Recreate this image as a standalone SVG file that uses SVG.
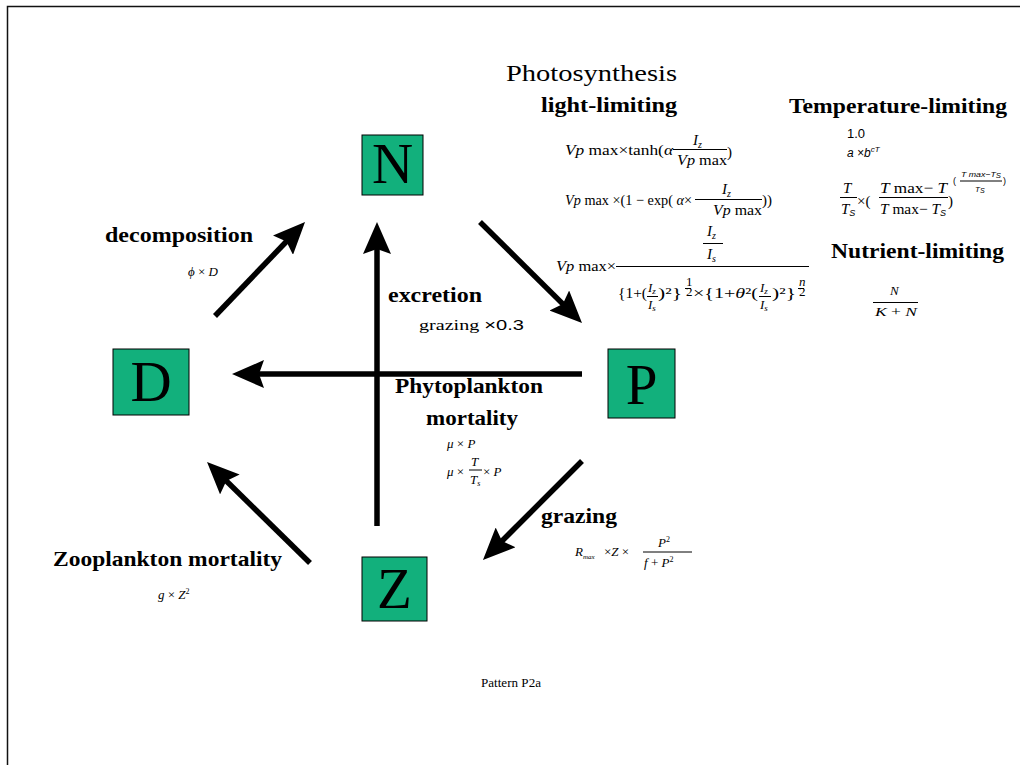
<svg xmlns="http://www.w3.org/2000/svg" width="1020" height="765" viewBox="0 0 1020 765">
<style>
.node{fill:#12B07C;stroke:#000;stroke-width:1}
.nl{font-family:"Liberation Serif",serif;font-size:57px;text-anchor:middle;fill:#000}
.lab{font-family:"Liberation Serif",serif;font-size:22px;font-weight:bold;fill:#000}
.f{font-family:"Liberation Serif",serif;font-size:15px;fill:#000}
.fs{font-family:"Liberation Serif",serif;font-size:13px;fill:#000}
.sans{font-family:"Liberation Sans",sans-serif;fill:#000}
.i{font-style:italic}
.fl{stroke:#000;stroke-width:1}
.arr{stroke:#000;stroke-width:5.5;fill:none;marker-end:url(#ah)}
</style>
<defs>
<marker id="ah" markerUnits="userSpaceOnUse" markerWidth="32" markerHeight="28" viewBox="0 0 32 28" refX="12" refY="14" orient="auto">
<path d="M0,0 L32,14 L0,28 L5,14 Z" fill="#000"/>
</marker>
</defs>
<rect width="1020" height="765" fill="#fff"/>
<path d="M7.5,765 V6.5 H1020" fill="none" stroke="#111" stroke-width="1.5"/>

<g id="connectors">
<line class="arr" x1="215" y1="316" x2="291.2" y2="236.5"/>
<line class="arr" x1="480" y1="222" x2="567.8" y2="308.9"/>
<line class="arr" x1="582" y1="374" x2="252" y2="374"/>
<line class="arr" x1="377" y1="526" x2="377" y2="242"/>
<line class="arr" x1="582" y1="461" x2="497.1" y2="545.9"/>
<line class="arr" x1="310" y1="563" x2="221.3" y2="476"/>
</g>

<g id="node-N"><rect class="node" x="362" y="135" width="61" height="60"/><text class="nl" x="392.5" y="183">N</text></g>
<g id="node-D"><rect class="node" x="113" y="349" width="76" height="66"/><text class="nl" x="151" y="401">D</text></g>
<g id="node-P"><rect class="node" x="608" y="349" width="67" height="69"/><text class="nl" x="641.5" y="404">P</text></g>
<g id="node-Z"><rect class="node" x="362" y="557" width="65" height="64"/><text class="nl" x="394.5" y="608">Z</text></g>

<g id="labels">
<text x="506" y="81" font-family="Liberation Serif, serif" font-size="24" textLength="171" lengthAdjust="spacingAndGlyphs">Photosynthesis</text>
<text class="lab" x="541" y="112" textLength="136" lengthAdjust="spacingAndGlyphs">light-limiting</text>
<text class="lab" x="789" y="113" textLength="218" lengthAdjust="spacingAndGlyphs">Temperature-limiting</text>
<text class="lab" x="831" y="258" textLength="173" lengthAdjust="spacingAndGlyphs">Nutrient-limiting</text>
<text class="lab" x="105" y="242" textLength="148" lengthAdjust="spacingAndGlyphs">decomposition</text>
<text class="lab" x="388" y="302" textLength="94" lengthAdjust="spacingAndGlyphs">excretion</text>
<text class="lab" x="395" y="393" textLength="148" lengthAdjust="spacingAndGlyphs">Phytoplankton</text>
<text class="lab" x="426" y="425" textLength="92" lengthAdjust="spacingAndGlyphs">mortality</text>
<text class="lab" x="541" y="523" textLength="76" lengthAdjust="spacingAndGlyphs">grazing</text>
<text class="lab" x="53" y="566" textLength="229" lengthAdjust="spacingAndGlyphs">Zooplankton mortality</text>
<text x="481" y="687" font-family="Liberation Serif, serif" font-size="13" textLength="60" lengthAdjust="spacingAndGlyphs">Pattern P2a</text>
</g>

<g id="formulas">
<!-- light-limiting 1 -->
<text class="f" x="565" y="155" textLength="108" lengthAdjust="spacingAndGlyphs"><tspan class="i">Vp</tspan> max×tanh(<tspan class="i">α</tspan></text>
<text class="f" x="693" y="145"><tspan class="i">I</tspan><tspan class="i" font-size="10" dy="3">z</tspan></text>
<line class="fl" x1="673" y1="149.5" x2="727" y2="149.5"/>
<text class="f" x="677" y="165" textLength="50" lengthAdjust="spacingAndGlyphs"><tspan class="i">Vp</tspan> max</text>
<text class="f" x="727" y="157">)</text>
<!-- light-limiting 2 -->
<text class="f" x="565" y="205" textLength="127" lengthAdjust="spacingAndGlyphs"><tspan class="i">Vp</tspan> max ×(1 − exp( <tspan class="i">α</tspan>×</text>
<text class="f" x="722" y="194"><tspan class="i">I</tspan><tspan class="i" font-size="10" dy="3">z</tspan></text>
<line class="fl" x1="695" y1="199.5" x2="762" y2="199.5"/>
<text class="f" x="713" y="215" textLength="49" lengthAdjust="spacingAndGlyphs"><tspan class="i">Vp</tspan> max</text>
<text class="f" x="762" y="205">))</text>
<!-- light-limiting 3 -->
<text class="f" x="556" y="271" textLength="60" lengthAdjust="spacingAndGlyphs"><tspan class="i">Vp</tspan> max×</text>
<line class="fl" x1="616" y1="266.5" x2="809" y2="266.5"/>
<text class="f" x="707" y="236"><tspan class="i">I</tspan><tspan class="i" font-size="10" dy="3">z</tspan></text>
<line class="fl" x1="703" y1="243.5" x2="723" y2="243.5"/>
<text class="f" x="707" y="259"><tspan class="i">I</tspan><tspan class="i" font-size="10" dy="3">s</tspan></text>
<text class="f" x="618" y="298" textLength="29" lengthAdjust="spacingAndGlyphs">{1+(</text>
<text class="fs" x="648" y="292"><tspan class="i">I</tspan><tspan class="i" font-size="9" dy="2">z</tspan></text>
<line class="fl" x1="647" y1="296.5" x2="658" y2="296.5"/>
<text class="fs" x="648" y="309"><tspan class="i">I</tspan><tspan class="i" font-size="9" dy="2">s</tspan></text>
<text class="f" x="658" y="298" textLength="24" lengthAdjust="spacingAndGlyphs">)²}</text>
<text class="fs" x="686" y="286" font-size="7">1</text>
<line class="fl" x1="685" y1="288.5" x2="691" y2="288.5" stroke-width="0.7"/>
<text class="fs" x="686" y="296" font-size="7">2</text>
<text class="f" x="693" y="298" textLength="65" lengthAdjust="spacingAndGlyphs">×{1+<tspan class="i">θ</tspan>²(</text>
<text class="fs" x="760" y="292"><tspan class="i">I</tspan><tspan class="i" font-size="9" dy="2">z</tspan></text>
<line class="fl" x1="759" y1="296.5" x2="771" y2="296.5"/>
<text class="fs" x="760" y="309"><tspan class="i">I</tspan><tspan class="i" font-size="9" dy="2">s</tspan></text>
<text class="f" x="772" y="298" textLength="24" lengthAdjust="spacingAndGlyphs">)²}</text>
<text class="fs i" x="799" y="286" font-size="7">n</text>
<line class="fl" x1="798" y1="288.5" x2="804" y2="288.5" stroke-width="0.7"/>
<text class="fs" x="799" y="296" font-size="7">2</text>
<!-- temperature -->
<text class="sans" x="847" y="138" font-size="13">1.0</text>
<text class="sans i" x="847" y="157" font-size="12">a ×b<tspan font-size="8" dy="-5">cT</tspan></text>
<text class="f i" x="843" y="193">T</text>
<line class="fl" x1="840" y1="197.5" x2="857" y2="197.5"/>
<text class="f" x="841" y="214"><tspan class="i">T</tspan><tspan class="sans i" font-size="9" dy="2">S</tspan></text>
<text class="f" x="857" y="206">×(</text>
<text class="f" x="880" y="193" textLength="67" lengthAdjust="spacingAndGlyphs"><tspan class="i">T</tspan> max− <tspan class="i">T</tspan></text>
<line class="fl" x1="879" y1="197.5" x2="948" y2="197.5"/>
<text class="f" x="880" y="214" textLength="60" lengthAdjust="spacingAndGlyphs"><tspan class="i">T</tspan> max− <tspan class="i">T</tspan></text>
<text class="sans i" x="940" y="216" font-size="9">S</text>
<text class="f" x="948" y="206">)</text>
<text class="sans" x="953" y="184" font-size="9">(</text>
<text class="sans i" x="961" y="177" font-size="8" textLength="40" lengthAdjust="spacingAndGlyphs">T max−T<tspan font-size="7" dy="1">S</tspan></text>
<line class="fl" x1="960" y1="181" x2="1002" y2="181" stroke-width="0.8"/>
<text class="sans i" x="975" y="192" font-size="8">T<tspan font-size="7" dy="1">S</tspan></text>
<text class="sans" x="1003" y="184" font-size="9">)</text>
<!-- nutrient -->
<text class="fs i" x="890" y="295">N</text>
<line class="fl" x1="873" y1="302.5" x2="918" y2="302.5"/>
<text class="fs" x="875" y="316" textLength="42" lengthAdjust="spacingAndGlyphs"><tspan class="i">K</tspan> + <tspan class="i">N</tspan></text>
<!-- decomposition -->
<text class="fs" x="188" y="276"><tspan class="i">ϕ</tspan> × <tspan class="i">D</tspan></text>
<!-- excretion -->
<text class="f" x="419" y="330" textLength="105" lengthAdjust="spacingAndGlyphs">grazing <tspan class="sans">×0.3</tspan></text>
<!-- phyto mortality -->
<text class="fs" x="447" y="448"><tspan class="i">μ</tspan> × <tspan class="i">P</tspan></text>
<text class="fs" x="447" y="476"><tspan class="i">μ</tspan> ×</text>
<text class="fs i" x="471" y="466">T</text>
<line class="fl" x1="469" y1="470" x2="482" y2="470"/>
<text class="fs" x="470" y="484"><tspan class="i">T</tspan><tspan class="i" font-size="8" dy="2">s</tspan></text>
<text class="fs" x="483" y="476">× <tspan class="i">P</tspan></text>
<!-- grazing -->
<text class="fs i" x="575" y="556" font-size="14">R<tspan font-size="7" dy="3">max</tspan></text>
<text class="fs" x="604" y="556">×<tspan class="i">Z</tspan> ×</text>
<text class="fs i" x="658" y="547">P<tspan font-style="normal" font-size="8" dy="-5">2</tspan></text>
<line class="fl" x1="643" y1="552" x2="692" y2="552"/>
<text class="fs" x="644" y="567"><tspan class="i">f</tspan> + <tspan class="i">P</tspan><tspan font-size="8" dy="-5">2</tspan></text>
<!-- zoo mortality -->
<text class="fs" x="158" y="599"><tspan class="i">g</tspan> × <tspan class="i">Z</tspan><tspan font-size="8" dy="-5">2</tspan></text>
</g>
</svg>
